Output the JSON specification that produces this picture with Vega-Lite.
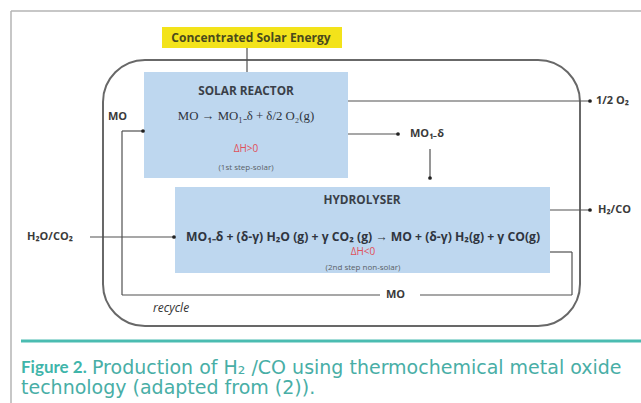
{
  "$schema": "https://vega.github.io/schema/vega-lite/v6.json",
  "width": 641,
  "height": 403,
  "padding": 0,
  "autosize": "none",
  "background": "white",
  "config": {"view": {"stroke": null}},
  "datasets": {
    "frame": [
      {"x1": 11, "y1": 11, "x2": 641, "y2": 11},
      {"x1": 11, "y1": 11, "x2": 11, "y2": 403}
    ],
    "tealrule": [{"x1": 21, "y1": 341, "x2": 641, "y2": 341}],
    "boxes": [
      {"name": "energy", "x1": 162, "x2": 342, "y1": 27, "y2": 48},
      {"name": "reactor", "x1": 144, "x2": 348, "y1": 72, "y2": 178},
      {"name": "hydrolyser", "x1": 175, "x2": 550, "y1": 187, "y2": 273}
    ],
    "enclosure": [{"x1": 103, "x2": 580, "y1": 60, "y2": 326}],
    "segments": [
      {"x1": 247, "y1": 48, "x2": 247, "y2": 72},
      {"x1": 348, "y1": 101, "x2": 590, "y2": 101},
      {"x1": 348, "y1": 134, "x2": 398, "y2": 134},
      {"x1": 430, "y1": 149, "x2": 430, "y2": 178},
      {"x1": 550, "y1": 210, "x2": 590, "y2": 210},
      {"x1": 90, "y1": 237, "x2": 174, "y2": 237},
      {"x1": 550, "y1": 252, "x2": 572, "y2": 252},
      {"x1": 572, "y1": 252, "x2": 572, "y2": 295},
      {"x1": 572, "y1": 295, "x2": 420, "y2": 295},
      {"x1": 380, "y1": 295, "x2": 122, "y2": 295},
      {"x1": 122, "y1": 295, "x2": 122, "y2": 131},
      {"x1": 122, "y1": 131, "x2": 143, "y2": 131}
    ],
    "dots": [
      {"x": 590, "y": 101}, {"x": 398, "y": 134}, {"x": 430, "y": 178},
      {"x": 590, "y": 210}, {"x": 174, "y": 237}, {"x": 143, "y": 131}
    ],
    "energyLabel": [{"x": 251, "y": 38, "t": "Concentrated Solar Energy"}],
    "headers": [
      {"x": 246, "y": 91, "t": "SOLAR REACTOR"},
      {"x": 362, "y": 200, "t": "HYDROLYSER"}
    ],
    "serifEq": [{"x": 246, "y": 116, "t": "MO → MO₁₋δ + δ/2 O₂(g)"}],
    "boldEq": [{"x": 363, "y": 237, "t": "MO₁₋δ + (δ-γ) H₂O (g) + γ CO₂ (g) → MO + (δ-γ) H₂(g) + γ CO(g)"}],
    "red": [
      {"x": 246, "y": 149, "t": "ΔH>0"},
      {"x": 363, "y": 252, "t": "ΔH<0"}
    ],
    "notes": [
      {"x": 246, "y": 168, "t": "(1st step-solar)"},
      {"x": 363, "y": 268, "t": "(2nd step non-solar)"}
    ],
    "streams": [
      {"x": 596, "y": 101, "t": "1/2 O₂"},
      {"x": 410, "y": 134, "t": "MO₁₋δ"},
      {"x": 598, "y": 210, "t": "H₂/CO"},
      {"x": 27, "y": 237, "t": "H₂O/CO₂"},
      {"x": 108, "y": 117, "t": "MO"},
      {"x": 386, "y": 295, "t": "MO"}
    ],
    "recycle": [{"x": 153, "y": 308, "t": "recycle"}],
    "capBold": [{"x": 21, "y": 368, "t": "Figure 2."}],
    "capText": [
      {"x": 92, "y": 368, "t": "Production of H₂ /CO using thermochemical metal oxide"},
      {"x": 21, "y": 388, "t": "technology (adapted from (2))."}
    ]
  },
  "layer": [
    {
      "data": {"name": "frame"},
      "mark": {"type": "rule", "color": "#b5b5b5", "strokeWidth": 1.5},
      "encoding": {
        "x": {"field": "x1", "type": "quantitative", "scale": {"domain": [0, 641], "nice": false, "zero": false}, "axis": null},
        "y": {"field": "y1", "type": "quantitative", "scale": {"domain": [0, 403], "nice": false, "zero": false, "reverse": true}, "axis": null},
        "x2": {"field": "x2"},
        "y2": {"field": "y2"}
      }
    },
    {
      "data": {"name": "boxes"},
      "mark": {"type": "rect"},
      "encoding": {
        "x": {"field": "x1", "type": "quantitative"},
        "x2": {"field": "x2"},
        "y": {"field": "y1", "type": "quantitative"},
        "y2": {"field": "y2"},
        "color": {"field": "name", "type": "nominal", "legend": null,
          "scale": {"domain": ["energy", "reactor", "hydrolyser"], "range": ["#f3e31a", "#bed7ef", "#bed7ef"]}}
      }
    },
    {
      "data": {"name": "enclosure"},
      "mark": {"type": "rect", "cornerRadius": 42, "fill": "transparent", "stroke": "#686868", "strokeWidth": 2},
      "encoding": {
        "x": {"field": "x1", "type": "quantitative"},
        "x2": {"field": "x2"},
        "y": {"field": "y1", "type": "quantitative"},
        "y2": {"field": "y2"}
      }
    },
    {
      "data": {"name": "segments"},
      "mark": {"type": "rule", "color": "#505050", "strokeWidth": 1.2},
      "encoding": {
        "x": {"field": "x1", "type": "quantitative"},
        "y": {"field": "y1", "type": "quantitative"},
        "x2": {"field": "x2"},
        "y2": {"field": "y2"}
      }
    },
    {
      "data": {"name": "tealrule"},
      "mark": {"type": "rule", "color": "#4bbcb1", "strokeWidth": 3},
      "encoding": {
        "x": {"field": "x1", "type": "quantitative"},
        "y": {"field": "y1", "type": "quantitative"},
        "x2": {"field": "x2"},
        "y2": {"field": "y2"}
      }
    },
    {
      "data": {"name": "dots"},
      "mark": {"type": "point", "filled": true, "size": 14, "color": "#222222", "opacity": 1},
      "encoding": {
        "x": {"field": "x", "type": "quantitative"},
        "y": {"field": "y", "type": "quantitative"}
      }
    },
    {
      "data": {"name": "energyLabel"},
      "mark": {"type": "text", "font": "Open Sans", "fontSize": 12, "fontWeight": "bold", "color": "#4a4a1c", "align": "center", "baseline": "middle"},
      "encoding": {"x": {"field": "x", "type": "quantitative"}, "y": {"field": "y", "type": "quantitative"}, "text": {"field": "t"}}
    },
    {
      "data": {"name": "headers"},
      "mark": {"type": "text", "font": "Open Sans", "fontSize": 11.8, "fontWeight": "bold", "color": "#3a3f48", "align": "center", "baseline": "middle"},
      "encoding": {"x": {"field": "x", "type": "quantitative"}, "y": {"field": "y", "type": "quantitative"}, "text": {"field": "t"}}
    },
    {
      "data": {"name": "serifEq"},
      "mark": {"type": "text", "font": "Liberation Serif", "fontSize": 12.8, "color": "#2f3540", "align": "center", "baseline": "middle"},
      "encoding": {"x": {"field": "x", "type": "quantitative"}, "y": {"field": "y", "type": "quantitative"}, "text": {"field": "t"}}
    },
    {
      "data": {"name": "boldEq"},
      "mark": {"type": "text", "font": "Open Sans", "fontSize": 12.2, "fontWeight": "bold", "color": "#2f3540", "align": "center", "baseline": "middle"},
      "encoding": {"x": {"field": "x", "type": "quantitative"}, "y": {"field": "y", "type": "quantitative"}, "text": {"field": "t"}}
    },
    {
      "data": {"name": "red"},
      "mark": {"type": "text", "font": "Open Sans", "fontSize": 10, "color": "#e0505a", "align": "center", "baseline": "middle"},
      "encoding": {"x": {"field": "x", "type": "quantitative"}, "y": {"field": "y", "type": "quantitative"}, "text": {"field": "t"}}
    },
    {
      "data": {"name": "notes"},
      "mark": {"type": "text", "font": "Open Sans", "fontSize": 8, "color": "#5a5f66", "align": "center", "baseline": "middle"},
      "encoding": {"x": {"field": "x", "type": "quantitative"}, "y": {"field": "y", "type": "quantitative"}, "text": {"field": "t"}}
    },
    {
      "data": {"name": "streams"},
      "mark": {"type": "text", "font": "Open Sans", "fontSize": 11, "fontWeight": "bold", "color": "#3a3a3a", "align": "left", "baseline": "middle"},
      "encoding": {"x": {"field": "x", "type": "quantitative"}, "y": {"field": "y", "type": "quantitative"}, "text": {"field": "t"}}
    },
    {
      "data": {"name": "recycle"},
      "mark": {"type": "text", "font": "Open Sans", "fontSize": 12, "fontStyle": "italic", "color": "#333333", "align": "left", "baseline": "middle"},
      "encoding": {"x": {"field": "x", "type": "quantitative"}, "y": {"field": "y", "type": "quantitative"}, "text": {"field": "t"}}
    },
    {
      "data": {"name": "capBold"},
      "mark": {"type": "text", "font": "Lato", "fontSize": 17, "fontWeight": "bold", "color": "#3fb5aa", "align": "left", "baseline": "middle"},
      "encoding": {"x": {"field": "x", "type": "quantitative"}, "y": {"field": "y", "type": "quantitative"}, "text": {"field": "t"}}
    },
    {
      "data": {"name": "capText"},
      "mark": {"type": "text", "font": "DejaVu Sans", "fontSize": 19, "color": "#48aea6", "align": "left", "baseline": "middle"},
      "encoding": {"x": {"field": "x", "type": "quantitative"}, "y": {"field": "y", "type": "quantitative"}, "text": {"field": "t"}}
    }
  ]
}
